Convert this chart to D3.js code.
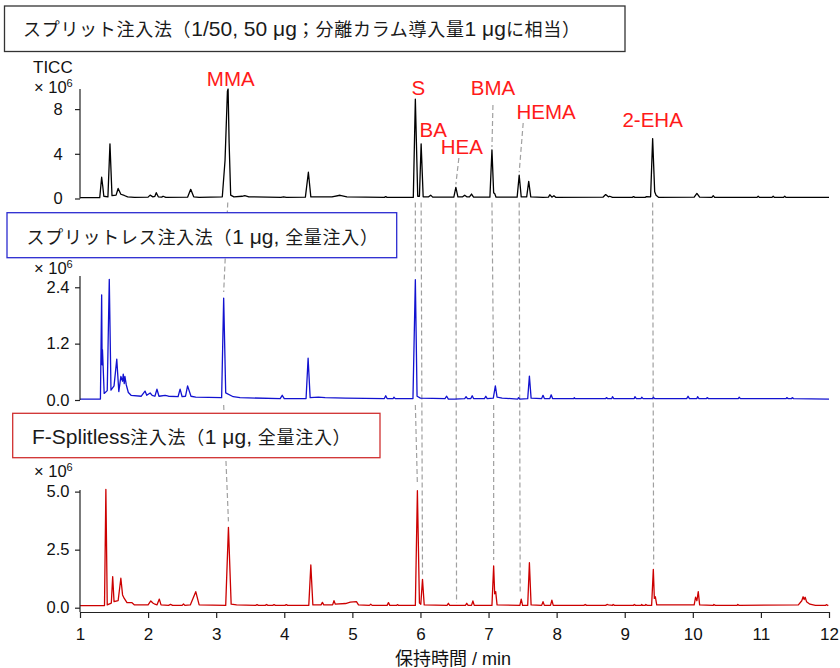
<!DOCTYPE html>
<html>
<head>
<meta charset="utf-8">
<script src="https://cdn.jsdelivr.net/npm/d3@7"></script>
<style>
body{margin:0;background:#fff}
svg{font-family:"Liberation Sans","Noto Sans CJK JP",sans-serif}
</style>
</head>
<body>
<svg id="chart" width="840" height="668"></svg>
<script>
// chromatograms: [retention time (min), intensity (x10^6)]
var splitTrace=[
[1.00,0.08],[1.29,0.08],[1.318,1.9],[1.335,1.05],[1.35,0.2],[1.41,0.15],[1.44,4.89],[1.47,0.25],[1.53,0.3],[1.56,0.9],
[1.60,0.38],[1.65,0.27],[1.70,0.15],[1.80,0.1],[2.00,0.12],[2.03,0.3],[2.07,0.15],[2.10,0.2],[2.12,0.52],[2.15,0.15],
[2.20,0.12],[2.22,0.2],[2.26,0.1],[2.58,0.12],[2.626,0.82],[2.67,0.15],[2.75,0.1],[3.09,0.15],[3.13,3.4],[3.165,9.6],
[3.175,9.8],[3.19,5.0],[3.213,0.3],[3.26,0.15],[3.38,0.2],[3.42,0.25],[3.48,0.15],[3.95,0.1],[3.99,0.15],[4.03,0.1],
[4.31,0.12],[4.354,2.35],[4.39,0.15],[4.70,0.15],[4.82,0.29],[4.92,0.15],[5.47,0.1],[5.49,0.17],[5.51,0.1],[5.895,0.1],
[5.925,8.9],[5.96,0.2],[5.985,0.2],[6.01,4.89],[6.04,0.15],[6.12,0.15],[6.15,0.3],[6.18,0.12],[6.49,0.12],[6.52,1.0],
[6.55,0.15],[6.62,0.15],[6.65,0.3],[6.68,0.15],[6.72,0.15],[6.75,0.4],[6.78,0.12],[7.02,0.12],[7.05,4.35],[7.075,0.5],
[7.09,0.45],[7.11,0.12],[7.42,0.12],[7.45,2.08],[7.48,0.15],[7.56,0.15],[7.59,1.54],[7.62,0.15],[7.80,0.1],[7.88,0.12],
[7.90,0.34],[7.93,0.12],[7.96,0.25],[7.99,0.1],[8.68,0.12],[8.72,0.35],[8.76,0.15],[8.78,0.2],[8.82,0.1],[9.11,0.1],
[9.13,0.17],[9.15,0.1],[9.30,0.1],[9.32,0.17],[9.38,0.15],[9.41,5.36],[9.44,0.6],[9.46,0.3],[9.50,0.1],[10.02,0.12],
[10.06,0.45],[10.10,0.12],[10.28,0.1],[10.30,0.25],[10.32,0.1],[10.94,0.1],[10.96,0.2],[10.98,0.1],[11.16,0.1],[11.18,0.2],
[11.20,0.1],[11.33,0.1],[11.35,0.2],[11.37,0.1],[12.00,0.1]
]
var splitlessTrace=[
[1.00,0.02],[1.30,0.02],[1.318,2.24],[1.325,0.75],[1.33,1.07],[1.34,0.71],[1.355,0.14],[1.40,0.2],[1.43,2.57],[1.455,0.21],
[1.50,0.3],[1.54,0.87],[1.57,0.18],[1.60,0.5],[1.625,0.4],[1.635,0.55],[1.65,0.35],[1.66,0.5],[1.68,0.32],[1.71,0.16],
[1.75,0.1],[1.90,0.08],[1.955,0.19],[1.98,0.1],[2.03,0.15],[2.06,0.1],[2.10,0.08],[2.13,0.23],[2.16,0.08],[2.25,0.1],
[2.30,0.08],[2.44,0.07],[2.47,0.23],[2.50,0.07],[2.55,0.08],[2.58,0.3],[2.63,0.08],[2.70,0.06],[3.08,0.05],[3.11,2.17],
[3.14,0.15],[3.25,0.07],[3.35,0.05],[3.94,0.03],[3.97,0.1],[4.00,0.03],[4.32,0.03],[4.35,0.89],[4.38,0.05],[4.50,0.06],
[4.60,0.05],[4.90,0.04],[5.47,0.03],[5.49,0.09],[5.51,0.03],[5.60,0.03],[5.61,0.06],[5.63,0.03],[5.89,0.03],[5.925,2.56],
[5.95,0.08],[6.00,0.04],[6.36,0.03],[6.385,0.08],[6.41,0.02],[6.50,0.02],[6.65,0.03],[6.67,0.07],[6.69,0.03],[6.74,0.03],
[6.76,0.09],[6.78,0.03],[6.94,0.03],[6.96,0.08],[6.98,0.03],[7.07,0.04],[7.10,0.3],[7.125,0.06],[7.20,0.04],[7.43,0.02],
[7.44,0.05],[7.46,0.02],[7.575,0.03],[7.60,0.51],[7.625,0.04],[7.78,0.03],[7.80,0.1],[7.82,0.03],[7.90,0.03],[7.92,0.11],
[7.94,0.03],[8.25,0.03],[8.26,0.05],[8.27,0.03],[8.72,0.03],[8.73,0.05],[8.75,0.03],[8.81,0.03],[8.82,0.07],[8.84,0.03],
[9.14,0.03],[9.15,0.07],[9.17,0.03],[9.24,0.03],[9.25,0.06],[9.27,0.03],[9.41,0.03],[9.42,0.06],[9.44,0.03],[9.91,0.03],
[9.93,0.08],[9.95,0.03],[10.06,0.03],[10.07,0.07],[10.09,0.03],[10.20,0.03],[10.21,0.05],[10.23,0.03],[10.67,0.03],[10.68,0.06],
[10.70,0.03],[11.37,0.03],[11.38,0.05],[11.40,0.03],[11.45,0.03],[11.46,0.05],[11.48,0.03],[12.00,0.02]
]
var fSplitlessTrace=[
[1.00,0.09],[1.36,0.09],[1.38,5.1],[1.40,0.12],[1.46,0.2],[1.48,1.34],[1.50,0.26],[1.56,0.3],[1.60,1.27],[1.625,0.55],
[1.65,0.4],[1.69,0.22],[1.76,0.22],[1.80,0.12],[2.00,0.12],[2.04,0.29],[2.07,0.2],[2.10,0.15],[2.13,0.12],[2.165,0.37],
[2.19,0.12],[2.30,0.1],[2.33,0.14],[2.36,0.1],[2.50,0.1],[2.52,0.16],[2.54,0.1],[2.62,0.12],[2.70,0.69],[2.75,0.12],
[3.14,0.1],[3.18,3.46],[3.22,0.15],[3.30,0.12],[3.58,0.1],[3.60,0.13],[3.62,0.1],[3.72,0.1],[3.74,0.14],[3.76,0.1],
[3.83,0.1],[3.85,0.13],[3.87,0.1],[4.01,0.1],[4.03,0.13],[4.05,0.1],[4.36,0.1],[4.39,1.84],[4.42,0.12],[4.54,0.12],
[4.56,0.23],[4.58,0.12],[4.71,0.12],[4.73,0.3],[4.75,0.15],[4.90,0.18],[4.97,0.24],[5.06,0.26],[5.09,0.12],[5.25,0.1],
[5.27,0.15],[5.29,0.1],[5.51,0.1],[5.53,0.22],[5.55,0.1],[5.65,0.1],[5.66,0.13],[5.68,0.1],[5.925,0.1],[5.955,5.04],
[5.985,0.2],[6.005,0.15],[6.03,1.22],[6.055,0.12],[6.39,0.1],[6.41,0.19],[6.43,0.1],[6.66,0.1],[6.68,0.19],[6.70,0.1],
[6.75,0.1],[6.77,0.29],[6.79,0.1],[7.05,0.1],[7.075,1.8],[7.09,0.6],[7.105,0.69],[7.125,0.12],[7.46,0.1],[7.48,0.37],
[7.50,0.1],[7.575,0.1],[7.60,1.94],[7.625,0.12],[7.78,0.1],[7.80,0.26],[7.82,0.1],[7.91,0.1],[7.93,0.33],[7.95,0.1],
[8.40,0.1],[8.42,0.14],[8.44,0.1],[8.72,0.1],[8.74,0.14],[8.76,0.12],[8.82,0.1],[8.83,0.14],[8.85,0.1],[9.13,0.1],
[9.14,0.14],[9.16,0.1],[9.24,0.1],[9.25,0.14],[9.26,0.1],[9.30,0.1],[9.31,0.14],[9.33,0.1],[9.395,0.1],[9.42,1.65],
[9.435,0.4],[9.45,0.47],[9.47,0.12],[10.02,0.12],[10.04,0.45],[10.06,0.3],[10.08,0.69],[10.10,0.12],[10.30,0.1],[10.31,0.14],
[10.33,0.1],[10.65,0.1],[10.66,0.14],[10.68,0.1],[11.55,0.12],[11.60,0.3],[11.62,0.47],[11.635,0.35],[11.65,0.45],[11.67,0.26],
[11.72,0.15],[11.80,0.1],[11.95,0.1],[11.96,0.13],[11.99,0.09]
]

var titles=["スプリット注入法（1/50, 50 μg；分離カラム導入量1 μgに相当）","スプリットレス注入法（1 μg, 全量注入）","F-Splitless注入法（1 μg, 全量注入）"]
var splitTicks=[0,4,8]
var splitlessTicks=[0,1.2,2.4]
var fSplitlessTicks=[0,2.5,5]
var xTicks=[1,2,3,4,5,6,7,8,9,10,11,12]

// compounds and their retention times in each run
var compounds=["MMA","S","BA","HEA","BMA","HEMA","2-EHA"]
var rtSplit=[3.17,5.925,6.01,6.52,7.05,7.45,9.41]
var rtSplitless=[3.11,5.925,6.03,6.53,7.075,7.465,9.425]
var rtFSplitless=[3.18,5.955,6.03,6.53,7.075,7.465,9.425]

// label placement (layout only)
var labelLayout=[
 {dx:3,y:86,lead:null},
 {dx:3,y:95,lead:null},
 {dx:12,y:137,lead:null},
 {dx:6,y:154,lead:[-3,4]},
 {dx:1,y:95,lead:[0,10]},
 {dx:27,y:119,lead:[-23,4]},
 {dx:0,y:127,lead:null}
]

var svg=d3.select("#chart")
var x=d3.scaleLinear().domain([1,12]).range([80,829])

var panels=[
 {trace:splitTrace,ticks:splitTicks,fmt:d3.format("d"),dom:[0,9.8],rng:[198.5,89],axisEnd:198.5,color:"#000",
  box:[4.5,6,620.5,45.5],boxColor:"#333",tx:23,ty:36,title:titles[0],expY:93},
 {trace:splitlessTrace,ticks:splitlessTicks,fmt:d3.format(".1f"),dom:[0,2.64],rng:[400,276],axisEnd:400,color:"#1212d0",
  box:[7,212.7,389.7,45],boxColor:"#2b2bd0",tx:26.5,ty:244,title:titles[1],expY:273.5},
 {trace:fSplitlessTrace,ticks:fSplitlessTicks,fmt:d3.format(".1f"),dom:[0,5.07],rng:[607.7,490],axisEnd:612,color:"#cc0000",
  box:[12.7,413.3,367.3,44.4],boxColor:"#d03030",tx:32,ty:444,title:titles[2],expY:476.5}
]
panels.forEach(p=>{p.y=d3.scaleLinear().domain(p.dom).range(p.rng)})

function peakVal(trace,t){
	var v=d3.max(trace.filter(d=>Math.abs(d[0]-t)<=0.03),d=>d[1])
	return v==null?0:v
}

// dashed guide lines
var dash=svg.append("g").attr("stroke","#a0a0a0").attr("stroke-width",1.2).attr("stroke-dasharray","5,3").attr("fill","none")
compounds.forEach((c,i)=>{
	var p1=peakVal(splitTrace,rtSplit[i]),p2=peakVal(splitlessTrace,rtSplitless[i]),p3=peakVal(fSplitlessTrace,rtFSplitless[i])
	var y1=panels[0].y,y2=panels[1].y,y3=panels[2].y
	var segs=[]
	if(p2<0.15){
		segs.push([[x(rtSplit[i]),y1(0)+4],[x(rtFSplitless[i]),y3(p3)-5]])
	}else{
		segs.push([[x(rtSplit[i]),y1(0)+4],[x(rtSplitless[i]),y2(p2)-6]])
		segs.push([[x(rtSplitless[i]),y2(0)+5],[x(rtFSplitless[i]),y3(p3)-6]])
	}
	var L=labelLayout[i]
	if(L.lead){
		segs.push([[x(rtSplit[i])+L.dx+L.lead[0],L.y+L.lead[1]],[x(rtSplit[i]),y1(p1)-3]])
	}
	segs.forEach(s=>{
		dash.append("line").attr("x1",s[0][0]).attr("y1",s[0][1]).attr("x2",s[1][0]).attr("y2",s[1][1])
	})
})

// split a title into CJK / latin runs: latin glyphs are set a bit larger than the CJK ones
var cjkRe=/[\u3000-\u30ff\u4e00-\u9fff\uff00-\uffef]/
function titleRuns(sel,str){
	var runs=str.match(/[\u3000-\u30ff\u4e00-\u9fff\uff00-\uffef]+|[^\u3000-\u30ff\u4e00-\u9fff\uff00-\uffef]+/g)
	runs.forEach(r=>{
		var cjk=cjkRe.test(r)
		sel.append("tspan").attr("font-size",cjk?18:21).attr("letter-spacing",cjk?0.7:0).text(r)
	})
}

// traces and axes
panels.forEach(p=>{
	var line=d3.line().x(d=>x(d[0])).y(d=>p.y(d[1]))
	svg.append("path").datum(p.trace)
	.attr("d",line).attr("fill","none").attr("stroke",p.color).attr("stroke-width",1.3).attr("stroke-linejoin","round")

	var yAxis=d3.axisLeft(p.y).tickValues(p.ticks).tickFormat(p.fmt).tickSize(5).tickSizeOuter(0)
	var g=svg.append("g").attr("transform","translate(80,0)").call(yAxis)
	g.attr("font-family",null).attr("font-size",16.5)
	g.select(".domain").remove()
	g.selectAll("line").attr("stroke","#222").attr("stroke-width",1.2)
	g.selectAll("text").attr("fill","#111").attr("text-anchor","middle").attr("x",-22)
	svg.append("line").attr("x1",80).attr("x2",80).attr("y1",p.rng[1]).attr("y2",p.axisEnd)
	.attr("stroke","#222").attr("stroke-width",1.2)

	// x10^6 unit
	var u=svg.append("text").attr("x",34).attr("y",p.expY).attr("font-size",16.5).attr("fill","#111")
	u.append("tspan").text("× 10")
	u.append("tspan").attr("dy",-6).attr("font-size",11).text("6")

	// title box
	svg.append("rect").attr("x",p.box[0]).attr("y",p.box[1]).attr("width",p.box[2]).attr("height",p.box[3])
	.attr("fill","#fff").attr("stroke",p.boxColor).attr("stroke-width",1.3)
	var t=svg.append("text").attr("x",p.tx).attr("y",p.ty).attr("fill","#1a1a1a")
	titleRuns(t,p.title)
})

svg.append("text").attr("x",33).attr("y",72.5).attr("font-size",17).attr("fill","#111").text("TICC")

// compound labels
compounds.forEach((c,i)=>{
	svg.append("text").attr("x",x(rtSplit[i])+labelLayout[i].dx).attr("y",labelLayout[i].y)
	.attr("text-anchor","middle").attr("font-size",20.5).attr("fill","#ff1a1a").text(c)
})

// x axis
var xAxis=d3.axisBottom(x).tickValues(xTicks).tickFormat(d3.format("d")).tickSize(6).tickSizeOuter(0).tickPadding(10)
var gx=svg.append("g").attr("transform","translate(0,612)").call(xAxis)
gx.attr("font-family",null).attr("font-size",17)
gx.select(".domain").attr("stroke","#222").attr("stroke-width",1.2)
gx.selectAll("line").attr("stroke","#222").attr("stroke-width",1.2)
gx.selectAll("text").attr("fill","#111")

svg.append("text").attr("x",453).attr("y",665).attr("text-anchor","middle").attr("font-size",18).attr("fill","#111").text("保持時間 / min")
</script>
</body>
</html>
